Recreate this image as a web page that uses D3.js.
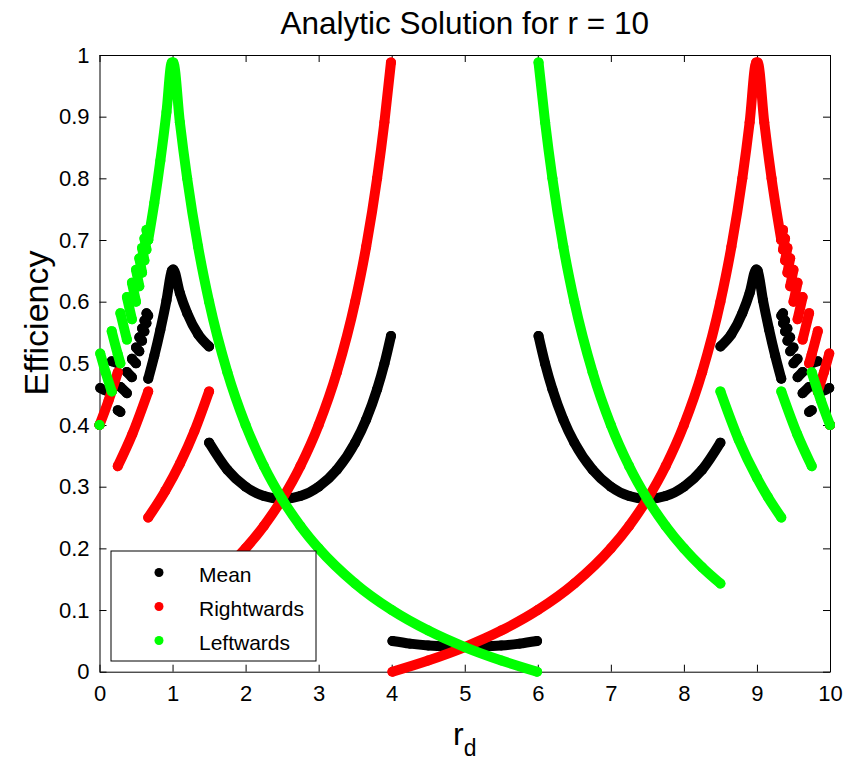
<!DOCTYPE html>
<html>
<head>
<meta charset="utf-8">
<script src="https://cdn.jsdelivr.net/npm/d3@7"></script>
<style>
  body { margin: 0; background: #fff; }
  svg { display: block; font-family: "Liberation Sans", Arial, Helvetica, sans-serif; }
</style>
</head>
<body>
<svg id="chart" width="860" height="762"></svg>
<script>
// Efficiency vs r_d for r = 10. Each series is a list of continuous pieces,
// each piece a list of [r_d, efficiency] samples.

const xTicks = [0, 1, 2, 3, 4, 5, 6, 7, 8, 9, 10];
const yTicks = [0, 0.1, 0.2, 0.3, 0.4, 0.5, 0.6, 0.7, 0.8, 0.9, 1];
const yTickLabels = ["0", "0.1", "0.2", "0.3", "0.4", "0.5", "0.6", "0.7", "0.8", "0.9", "1"];

const seriesNames = ["Mean", "Rightwards", "Leftwards"];
const seriesColors = ["#000000", "#ff0000", "#00ff00"];

const meanPieces = [
  [[0, 0.4]],
  [[0.01, 0.46], [0.083, 0.4559], [0.167, 0.4545]],
  [[0.167, 0.5034], [0.25, 0.5003]],
  [[0.25, 0.4241], [0.286, 0.421]],
  [[0.286, 0.4617], [0.375, 0.4516]],
  [[0.375, 0.4861], [0.444, 0.4776]],
  [[0.444, 0.5073], [0.5, 0.5]],
  [[0.5, 0.5258], [0.545, 0.5195]],
  [[0.545, 0.5422], [0.583, 0.5366]],
  [[0.583, 0.5567], [0.615, 0.5517]],
  [[0.615, 0.5696], [0.643, 0.5652]],
  [[0.643, 0.5813], [0.667, 0.5773]],
  [[0.667, 0.475], [0.75, 0.5123], [0.833, 0.5543], [0.917, 0.6021], [0.99, 0.650], [1.01, 0.6523],
   [1.1, 0.6141], [1.2, 0.5813], [1.35, 0.547], [1.5, 0.5273]],
  [[1.5, 0.3714], [1.75, 0.3275], [2, 0.3], [2.25, 0.2848], [2.5, 0.28], [2.75, 0.2848], [3, 0.3],
   [3.25, 0.3275], [3.5, 0.3714], [3.65, 0.4088], [3.8, 0.4579], [3.9, 0.4993], [3.99, 0.5444]],
  [[4.01, 0.0497], [4.25, 0.0455], [4.5, 0.0424], [5, 0.04], [5.5, 0.0424], [5.75, 0.0455], [5.99, 0.0497]],
  [[6.01, 0.5444], [6.1, 0.4993], [6.2, 0.4579], [6.35, 0.4088], [6.5, 0.3714], [6.75, 0.3275], [7, 0.3],
   [7.25, 0.2848], [7.5, 0.28], [7.75, 0.2848], [8, 0.3], [8.25, 0.3275], [8.5, 0.3714]],
  [[8.5, 0.5273], [8.65, 0.547], [8.8, 0.5813], [8.9, 0.6141], [8.99, 0.6523], [9.01, 0.650],
   [9.083, 0.6021], [9.167, 0.5543], [9.25, 0.5123], [9.333, 0.475]],
  [[9.333, 0.5773], [9.357, 0.5813]],
  [[9.357, 0.5652], [9.385, 0.5696]],
  [[9.385, 0.5517], [9.417, 0.5567]],
  [[9.417, 0.5366], [9.455, 0.5422]],
  [[9.455, 0.5195], [9.5, 0.5258]],
  [[9.5, 0.5], [9.556, 0.5073]],
  [[9.556, 0.4776], [9.625, 0.4861]],
  [[9.625, 0.4516], [9.714, 0.4617]],
  [[9.714, 0.421], [9.75, 0.4241]],
  [[9.75, 0.5003], [9.833, 0.5034]],
  [[9.833, 0.4545], [9.917, 0.4559], [9.99, 0.46]],
  [[10, 0.4]]
];

const rightwardsPieces = [
  [[0, 0.4], [0.125, 0.44], [0.25, 0.4857]],
  [[0.25, 0.3333], [0.45, 0.3854], [0.667, 0.4545]],
  [[0.667, 0.25], [0.9, 0.2932], [1.1, 0.3373], [1.3, 0.3902], [1.5, 0.4545]],
  [[1.5, 0.1429], [1.75, 0.1692], [2, 0.2], [2.25, 0.2364], [2.5, 0.28], [2.75, 0.3333], [3, 0.4],
   [3.25, 0.4857], [3.5, 0.6], [3.65, 0.6889], [3.8, 0.8], [3.9, 0.8909], [3.99, 0.988]],
  [[4.01, 0], [4.5, 0.0182], [5, 0.04], [5.5, 0.0667], [6, 0.1], [6.5, 0.1429], [7, 0.2], [7.25, 0.2364],
   [7.5, 0.28], [7.75, 0.3333], [8, 0.4], [8.25, 0.4857], [8.5, 0.6], [8.65, 0.6889], [8.8, 0.8],
   [8.9, 0.8909], [8.99, 0.988], [9.01, 0.988], [9.1, 0.8909], [9.2, 0.8], [9.333, 0.7]],
  [[9.333, 0.7], [9.357, 0.7164]],
  [[9.357, 0.6842], [9.385, 0.7025]],
  [[9.385, 0.6667], [9.417, 0.6872]],
  [[9.417, 0.6471], [9.455, 0.6703]],
  [[9.455, 0.625], [9.5, 0.6516]],
  [[9.5, 0.6], [9.556, 0.6308]],
  [[9.556, 0.5714], [9.625, 0.6075]],
  [[9.625, 0.5385], [9.714, 0.5814]],
  [[9.714, 0.5], [9.75, 0.5149], [9.833, 0.5522]],
  [[9.833, 0.4545], [9.917, 0.4857], [9.99, 0.516]],
  [[10, 0.4]]
];

const leftwardsPieces = [
  [[0, 0.4]],
  [[0.01, 0.516], [0.083, 0.4857], [0.167, 0.4545]],
  [[0.167, 0.5522], [0.25, 0.5149], [0.286, 0.5]],
  [[0.286, 0.5814], [0.375, 0.5385]],
  [[0.375, 0.6075], [0.444, 0.5714]],
  [[0.444, 0.6308], [0.5, 0.6]],
  [[0.5, 0.6516], [0.545, 0.625]],
  [[0.545, 0.6703], [0.583, 0.6471]],
  [[0.583, 0.6872], [0.615, 0.6667]],
  [[0.615, 0.7025], [0.643, 0.6842]],
  [[0.643, 0.7164], [0.667, 0.7]],
  [[0.667, 0.7], [0.75, 0.76], [0.833, 0.8286], [0.917, 0.9077], [0.99, 0.988], [1.01, 0.988],
   [1.1, 0.8909], [1.2, 0.8], [1.35, 0.6889], [1.5, 0.6], [1.75, 0.4857], [2, 0.4], [2.25, 0.3333],
   [2.5, 0.28], [2.75, 0.2364], [3, 0.2], [3.5, 0.1429], [4, 0.1], [4.5, 0.0667], [5, 0.04],
   [5.5, 0.0182], [5.99, 0]],
  [[6.01, 0.988], [6.1, 0.8909], [6.2, 0.8], [6.35, 0.6889], [6.5, 0.6], [6.75, 0.4857], [7, 0.4],
   [7.25, 0.3333], [7.5, 0.28], [7.75, 0.2364], [8, 0.2], [8.25, 0.1692], [8.5, 0.1429]],
  [[8.5, 0.4545], [8.75, 0.376], [9, 0.3143], [9.15, 0.2832], [9.333, 0.25]],
  [[9.333, 0.4545], [9.55, 0.3854], [9.75, 0.3333]],
  [[9.75, 0.4857], [9.875, 0.44], [10, 0.4]]
];

const seriesPieces = [meanPieces, rightwardsPieces, leftwardsPieces];

// ---- layout ----
const svg = d3.select("#chart");
svg.append("rect").attr("width", 860).attr("height", 762).attr("fill", "#fff");

const plot = { left: 99.5, right: 830, top: 55, bottom: 671.7 };
const x = d3.scaleLinear().domain([0, 10]).range([plot.left, plot.right]);
const y = d3.scaleLinear().domain([0, 1]).range([plot.bottom, plot.top]);

const tickFont = 22;
const legendFont = 21;
const tickLen = 7;

// axes box with inward ticks on all four sides
const axisG = svg.append("g").attr("class", "axes");

const bottomAxis = d3.axisBottom(x).tickValues(xTicks).tickFormat(d3.format("d"))
  .tickSizeInner(-tickLen).tickSizeOuter(0).tickPadding(14);
const topAxis = d3.axisTop(x).tickValues(xTicks).tickFormat("")
  .tickSizeInner(-tickLen).tickSizeOuter(0);
const leftAxis = d3.axisLeft(y).tickValues(yTicks).tickFormat((d, i) => yTickLabels[i])
  .tickSizeInner(-tickLen).tickSizeOuter(0).tickPadding(10);
const rightAxis = d3.axisRight(y).tickValues(yTicks).tickFormat("")
  .tickSizeInner(-tickLen).tickSizeOuter(0);

function styleAxis(g) {
  g.selectAll("path.domain").attr("stroke", "#000").attr("stroke-width", 1);
  g.selectAll(".tick line").attr("stroke", "#000").attr("stroke-width", 1);
  g.selectAll(".tick text").attr("fill", "#000").style("font-size", tickFont + "px")
    .style("font-family", "\"Liberation Sans\", Arial, sans-serif");
}

axisG.append("g").attr("transform", `translate(0,${plot.bottom})`).call(bottomAxis).call(styleAxis);
axisG.append("g").attr("transform", `translate(0,${plot.top})`).call(topAxis).call(styleAxis);
axisG.append("g").attr("transform", `translate(${plot.left},0)`).call(leftAxis).call(styleAxis);
axisG.append("g").attr("transform", `translate(${plot.right},0)`).call(rightAxis).call(styleAxis);

// ---- data: dense dot markers rendered as thick round-capped strokes ----
const markerSize = 10;
const line = d3.line()
  .x(d => x(d[0]))
  .y(d => y(d[1]))
  .curve(d3.curveMonotoneX);

seriesPieces.forEach((pieces, si) => {
  const g = svg.append("g").attr("class", "series-" + si);
  g.selectAll("path")
    .data(pieces)
    .join("path")
    .attr("d", line)
    .attr("fill", "none")
    .attr("stroke", seriesColors[si])
    .attr("stroke-width", markerSize)
    .attr("stroke-linecap", "round")
    .attr("stroke-linejoin", "round");
  g.selectAll("circle")
    .data(pieces.flat())
    .join("circle")
    .attr("cx", d => x(d[0]))
    .attr("cy", d => y(d[1]))
    .attr("r", markerSize / 2)
    .attr("fill", seriesColors[si]);
});

// ---- title and axis labels ----
svg.append("text")
  .attr("x", (plot.left + plot.right) / 2)
  .attr("y", 34)
  .attr("text-anchor", "middle")
  .style("font-size", "31.5px")
  .attr("fill", "#000")
  .text("Analytic Solution for r = 10");

const xLabel = svg.append("text")
  .attr("x", (plot.left + plot.right) / 2)
  .attr("y", 745)
  .attr("text-anchor", "middle")
  .attr("fill", "#000")
  .style("font-size", "32px");
xLabel.append("tspan").text("r");
xLabel.append("tspan").attr("dy", 11).style("font-size", "23px").text("d");

svg.append("text")
  .attr("transform", "translate(48,323) rotate(-90)")
  .attr("text-anchor", "middle")
  .attr("fill", "#000")
  .style("font-size", "34px")
  .text("Efficiency");

// ---- legend ----
const legend = svg.append("g").attr("class", "legend");
legend.append("rect")
  .attr("x", 111).attr("y", 551).attr("width", 205).attr("height", 110)
  .attr("fill", "#fff").attr("stroke", "#000").attr("stroke-width", 1);
seriesNames.forEach((name, i) => {
  const cy = 572.5 + i * 34;
  legend.append("circle").attr("cx", 159).attr("cy", cy).attr("r", 4.5).attr("fill", seriesColors[i]);
  legend.append("text").attr("x", 199).attr("y", cy + 9)
    .attr("fill", "#000").style("font-size", legendFont + "px").text(name);
});
</script>
</body>
</html>
